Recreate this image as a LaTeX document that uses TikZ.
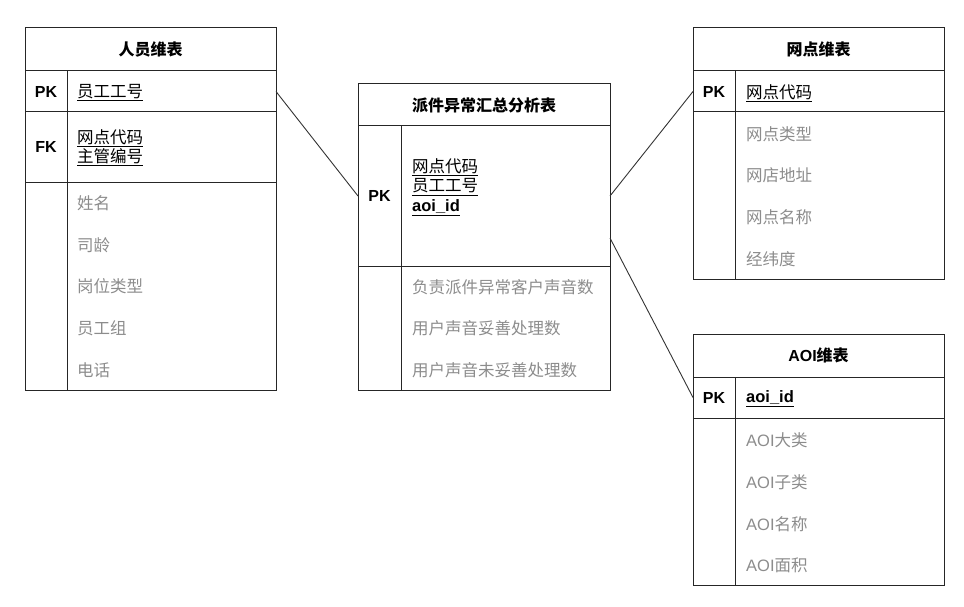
\documentclass[tikz,border=0pt]{standalone}
\usepackage{fontspec}
\setmainfont{Liberation Sans}
\newfontfamily\cjk{Noto Sans CJK SC}
\tikzset{
  cell/.style={draw=black!85, line width=1pt, rectangle, inner sep=0pt,
    outer sep=0pt, anchor=north west},
  tabletitle/.style={font=\bfseries\fontsize{16}{19}\selectfont},
  keylbl/.style={font=\bfseries\fontsize{16}{19}\selectfont},
  keyfld/.style={anchor=west, align=left, inner sep=0pt,
    font=\fontsize{16.5}{19.5}\selectfont},
  attr/.style={anchor=west, inner sep=0pt, text=black!45,
    font=\fontsize{16.5}{19}\selectfont},
  link/.style={draw=black!80, line width=0.9pt},
}

\begin{document}
\begin{tikzpicture}[x=1pt, y=-1pt]
  \useasboundingbox (0,0) rectangle (964,607);

  %% staff table
  \node[cell, tabletitle, minimum width=251pt, minimum height=43pt] (staffHead) at (25,28) {\cjk 人员维表};
  \node[cell, keylbl, minimum width=42pt, minimum height=41pt] (staffPK) at (25,71) {PK};
  \node[cell, minimum width=209pt, minimum height=41pt] (staffPKf) at (67,71) {};
  \node[cell, keylbl, minimum width=42pt, minimum height=70pt] (staffFK) at (25,112) {FK};
  \node[cell, minimum width=209pt, minimum height=70pt] (staffFKf) at (67,112) {};
  \node[cell, minimum width=42pt, minimum height=208pt] (staffAk) at (25,182) {};
  \node[cell, minimum width=209pt, minimum height=208pt] (staffAf) at (67,182) {};
  \node[keyfld] (staffPKt) at (77,93) {\cjk\underline{员工工号}};
  \node[keyfld] (staffFKt) at (77,147.5) {\cjk\underline{网点代码}\\\cjk\underline{主管编号}};
  \foreach \f [count=\i] in {姓名,司龄,岗位类型,员工组,电话}
    \node[attr] (staffA\i) at (77,{203+41.75*(\i-1)}) {\cjk\f};

  %% summary table
  \node[cell, tabletitle, minimum width=252pt, minimum height=42pt] (sumHead) at (358,84) {\cjk 派件异常汇总分析表};
  \node[cell, keylbl, minimum width=43pt, minimum height=140pt] (sumPK) at (358,126) {PK};
  \node[cell, minimum width=209pt, minimum height=140pt] (sumPKf) at (401,126) {};
  \node[cell, minimum width=43pt, minimum height=124pt] (sumAk) at (358,266) {};
  \node[cell, minimum width=209pt, minimum height=124pt] (sumAf) at (401,266) {};
  \node[keyfld] (sumPKt) at (412,187)
    {\cjk\underline{网点代码}\\\cjk\underline{员工工号}\\\bfseries\underline{aoi\_id}};
  \foreach \f [count=\i] in {负责派件异常客户声音数,用户声音妥善处理数,用户声音未妥善处理数}
    \node[attr] (sumA\i) at (412,{287+41.5*(\i-1)}) {\cjk\f};

  %% outlet table
  \node[cell, tabletitle, minimum width=251pt, minimum height=43pt] (netHead) at (693,28) {\cjk 网点维表};
  \node[cell, keylbl, minimum width=42pt, minimum height=41pt] (netPK) at (693,71) {PK};
  \node[cell, minimum width=209pt, minimum height=41pt] (netPKf) at (735,71) {};
  \node[cell, minimum width=42pt, minimum height=167pt] (netAk) at (693,112) {};
  \node[cell, minimum width=209pt, minimum height=167pt] (netAf) at (735,112) {};
  \node[keyfld] (netPKt) at (746,93) {\cjk\underline{网点代码}};
  \foreach \f [count=\i] in {网点类型,网店地址,网点名称,经纬度}
    \node[attr] (netA\i) at (746,{134+41.7*(\i-1)}) {\cjk\f};

  %% aoi table
  \node[cell, tabletitle, minimum width=251pt, minimum height=43pt] (aoiHead) at (693,334) {AOI\cjk 维表};
  \node[cell, keylbl, minimum width=42pt, minimum height=41pt] (aoiPK) at (693,377) {PK};
  \node[cell, minimum width=209pt, minimum height=41pt] (aoiPKf) at (735,377) {};
  \node[cell, minimum width=42pt, minimum height=167pt] (aoiAk) at (693,418) {};
  \node[cell, minimum width=209pt, minimum height=167pt] (aoiAf) at (735,418) {};
  \node[keyfld] (aoiPKt) at (746,399) {\bfseries\underline{aoi\_id}};
  \foreach \f [count=\i] in {大类,子类,名称,面积}
    \node[attr] (aoiA\i) at (746,{440+41.9*(\i-1)}) {AOI{\cjk\f}};

  %% relations
  \draw[link] (staffPKf.east) -- (sumPK.west);
  \draw[link] (sumPKf.east) -- (netPK.west);
  \draw[link] ([yshift=-42pt]sumPKf.east) -- (aoiPK.west);

\end{tikzpicture}
\end{document}
